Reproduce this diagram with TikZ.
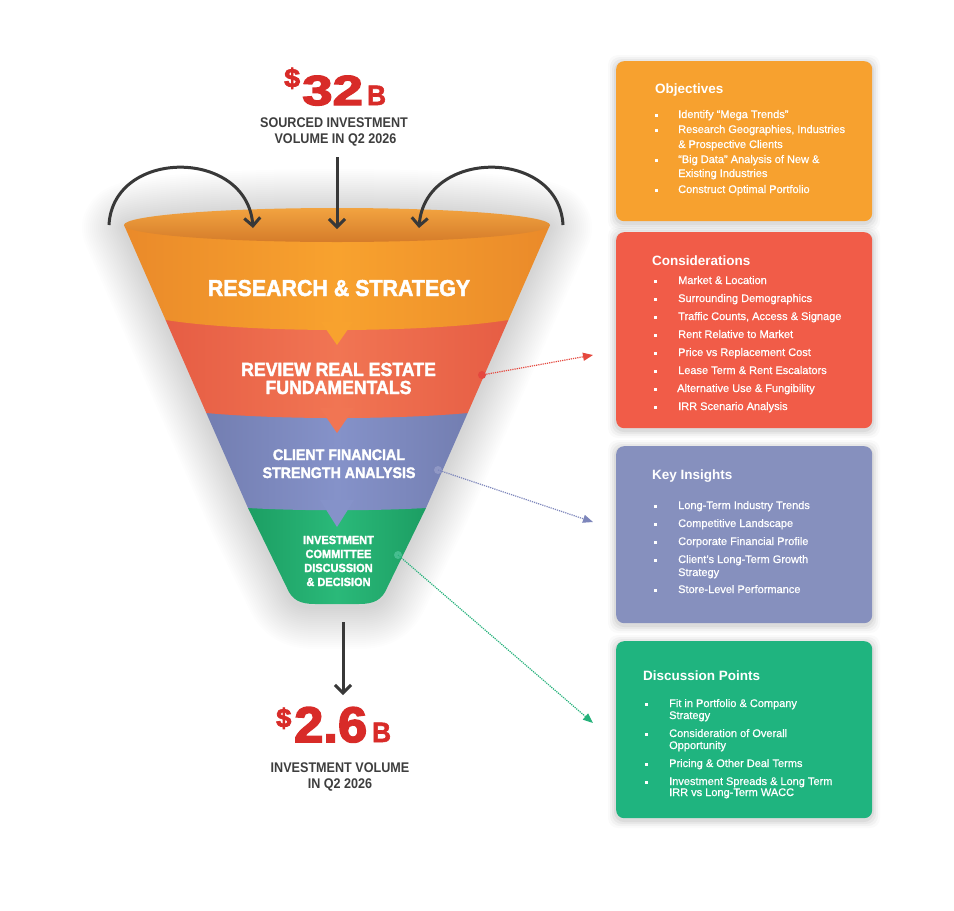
\documentclass[tikz,border=0pt]{standalone}
\usepackage{fontspec}
\setmainfont{Liberation Sans}
\newfontfamily\heavyf[FakeStretch=0.93,BoldFeatures={FakeBold=2}]{Liberation Sans}
\newfontfamily\condf[FakeStretch=0.9]{Liberation Sans}
\newfontfamily\itmf[FakeBold=0.7]{Liberation Sans}
\newfontfamily\numf[BoldFeatures={FakeBold=3}]{Liberation Sans}
\usetikzlibrary{arrows.meta}
\definecolor{org}{HTML}{F8A22E}
\definecolor{orgdk}{HTML}{EA8A2A}
\definecolor{rimtop}{HTML}{F2A340}
\definecolor{rimbot}{HTML}{D57C2A}
\definecolor{rd}{HTML}{F17553}
\definecolor{rddk}{HTML}{E65D44}
\definecolor{bl}{HTML}{8592C9}
\definecolor{bldk}{HTML}{737EB1}
\definecolor{gr}{HTML}{2AB979}
\definecolor{grdk}{HTML}{1C9E63}
\definecolor{numred}{HTML}{D82B28}
\definecolor{txtgray}{HTML}{3E3E3E}
\definecolor{arrgray}{HTML}{383838}
\definecolor{boxorg}{HTML}{F7A12F}
\definecolor{boxred}{HTML}{F15C48}
\definecolor{boxblue}{HTML}{8690BE}
\definecolor{boxgreen}{HTML}{1FB47F}
\definecolor{lnred}{HTML}{E5483E}
\definecolor{lnblue}{HTML}{7D86BB}
\definecolor{lngreen}{HTML}{25B27B}
\newcommand{\bxglow}[4]{%
  \foreach \e/\o in {8/0.02,6/0.03,4/0.04,2/0.05}{%
    \fill[black,opacity=\o,rounded corners=10pt] ({#1-\e},{#2-\e+2}) rectangle ({#3+\e},{#4+\e+2});
  }}
\newcommand{\bul}[2]{\fill[white] ({#1},{#2-4}) rectangle ({#1+3.3},{#2-0.8});}
\begin{document}
\begin{tikzpicture}[x=1pt,y=-1pt,
  bigarrow/.style={draw=arrgray,line width=3pt,-{Straight Barb[length=8pt,width=16pt]}},
  flab/.style={anchor=base,inner sep=0pt,text=white},
  itm/.style={anchor=base west,inner sep=0pt,text=white,font=\itmf\fontsize{11}{13}\selectfont},
  ttl/.style={anchor=base west,inner sep=0pt,text=white,font=\bfseries\fontsize{13.5}{15}\selectfont},
  gtxt/.style={anchor=base,inner sep=0pt,text=txtgray,font=\condf\bfseries\fontsize{14}{14}\selectfont},
  card/.style={anchor=north west,rounded corners=8pt,inner sep=0pt,minimum width=256pt},
  dotln/.style={densely dotted,line width=1.2pt,-{Triangle[length=10pt,width=8pt]}},
  dotnode/.style={circle,inner sep=0pt,minimum size=8pt}]
\useasboundingbox (0,0) rectangle (954,911);
\fill[white] (0,0) rectangle (954,911);

% funnel glow
\foreach \w in {84,80,...,4}{
  \draw[line width=\w pt,black,opacity=0.006,line join=round]
    (124,228) -- (248,511) -- (287,591) .. controls (292,603) and (300,607) .. (315,607)
    -- (359,607) .. controls (374,607) and (382,603) .. (387,591) -- (426,511) -- (550,228)
    arc[start angle=0,end angle=180,x radius=213pt,y radius=17pt] -- cycle;
}

% bands (bottom to top)
\shade[left color=grdk,right color=grdk,middle color=gr]
  (248,508) -- (287,588) .. controls (292,600) and (300,604) .. (315,604)
  -- (359,604) .. controls (374,604) and (382,600) .. (387,588) -- (426,508) -- cycle;
\shade[left color=bldk,right color=bldk,middle color=bl]
  (206.3,413) -- (248,508) .. controls (300,511) and (374,511) .. (426,508) -- (467.7,413) -- cycle;
\shade[left color=rddk,right color=rddk,middle color=rd]
  (165.6,320) -- (206.3,413) .. controls (280,419.7) and (394,419.7) .. (467.7,413) -- (508.4,320) -- cycle;
\shade[left color=orgdk,right color=orgdk,middle color=org]
  (124,225) -- (165.6,320) .. controls (250,333.3) and (424,333.3) .. (508.4,320) -- (550,225) -- cycle;
% notches
\fill[org] (321,322) -- (337,345) -- (353,322) -- cycle;
\fill[rd] (320,408) -- (337,433) -- (354,408) -- cycle;
\fill[bl] (320,500) -- (337,527) -- (354,500) -- cycle;
% rim
\shade[top color=rimtop,bottom color=rimbot] (337,225) ellipse[x radius=213pt,y radius=17pt];

% funnel labels
\node[flab,font=\heavyf\bfseries\fontsize{23}{23}\selectfont] (l1) at (339,296) {RESEARCH \& STRATEGY};
\node[flab,font=\heavyf\bfseries\fontsize{19}{19}\selectfont] (l2a) at (338.5,376) {REVIEW REAL ESTATE};
\node[flab,font=\heavyf\bfseries\fontsize{19}{19}\selectfont] (l2b) at (338.5,394) {FUNDAMENTALS};
\node[flab,font=\heavyf\bfseries\fontsize{15.3}{15}\selectfont] (l3a) at (339,460) {CLIENT FINANCIAL};
\node[flab,font=\heavyf\bfseries\fontsize{15.3}{15}\selectfont] (l3b) at (339,478) {STRENGTH ANALYSIS};
\node[flab,font=\heavyf\bfseries\fontsize{11.8}{12}\selectfont] (l4a) at (338.5,544) {INVESTMENT};
\node[flab,font=\heavyf\bfseries\fontsize{11.8}{12}\selectfont] (l4b) at (338.5,558) {COMMITTEE};
\node[flab,font=\heavyf\bfseries\fontsize{11.8}{12}\selectfont] (l4c) at (338.5,572) {DISCUSSION};
\node[flab,font=\heavyf\bfseries\fontsize{11.8}{12}\selectfont] (l4d) at (338.5,586) {\& DECISION};

% top figures
\node[anchor=base west,inner sep=0pt,text=numred,font=\numf\bfseries\fontsize{26}{26}\selectfont,xscale=1.1] (d1) at (284,87) {\$};
\node[anchor=base west,inner sep=0pt,text=numred,font=\numf\bfseries\fontsize{42}{42}\selectfont,xscale=1.3] (n1) at (302,105) {32};
\node[anchor=base west,inner sep=0pt,text=numred,font=\heavyf\bfseries\fontsize{28}{28}\selectfont] (b1) at (367,105) {B};
\node[gtxt] (s1) at (334,127) {SOURCED INVESTMENT};
\node[gtxt] (s2) at (335.5,143) {VOLUME IN Q2 2026};

% bottom figures
\node[anchor=base west,inner sep=0pt,text=numred,font=\numf\bfseries\fontsize{26}{26}\selectfont,xscale=1.05] (d2) at (276,727) {\$};
\node[anchor=base west,inner sep=0pt,text=numred,font=\numf\bfseries\fontsize{50}{50}\selectfont,xscale=1.05] (n2) at (294,742) {2.6};
\node[anchor=base west,inner sep=0pt,text=numred,font=\heavyf\bfseries\fontsize{28}{28}\selectfont] (b2) at (372,742) {B};
\node[gtxt] (t1) at (340,772) {INVESTMENT VOLUME};
\node[gtxt] (t2) at (340,788) {IN Q2 2026};

% arrows
\coordinate (la1) at (109,225); \coordinate (la2) at (253,228);
\coordinate (ra1) at (563,225); \coordinate (ra2) at (419,228);
\coordinate (ca1) at (337,157); \coordinate (ca2) at (337,229);
\coordinate (ba1) at (343,622); \coordinate (ba2) at (343,695);
\draw[bigarrow] (la1) .. controls (113,148) and (247,148) .. (la2);
\draw[bigarrow] (ra1) .. controls (559,148) and (425,148) .. (ra2);
\draw[bigarrow] (ca1) -- (ca2);
\draw[bigarrow] (ba1) -- (ba2);

% connectors
\node[dotnode,fill=lnred] (p1) at (482,375) {};
\node[dotnode,fill=lnblue!85!white] (p2) at (438,470) {};
\node[dotnode,fill=lngreen!85!white] (p3) at (398,555) {};
\coordinate (e1) at (593,355);
\coordinate (e2) at (593,522);
\coordinate (e3) at (593,723);
\draw[dotln,lnred] (p1.center) -- (e1);
\draw[dotln,lnblue] (p2.center) -- (e2);
\draw[dotln,lngreen] (p3.center) -- (e3);

% cards
\bxglow{616}{61}{872}{221}
\bxglow{616}{232}{872}{428}
\bxglow{616}{446}{872}{623}
\bxglow{616}{641}{872}{818}
\node[card,fill=boxorg,minimum height=160pt] (c1) at (616,61) {};
\node[card,fill=boxred,minimum height=196pt] (c2) at (616,232) {};
\node[card,fill=boxblue,minimum height=177pt] (c3) at (616,446) {};
\node[card,fill=boxgreen,minimum height=177pt] (c4) at (616,641) {};

% card 1
\node[ttl] (c1t) at (655,93) {Objectives};
\bul{655}{118}\node[itm] (c1a) at (678,118) {Identify “Mega Trends”};
\bul{655}{133}\node[itm] (c1b) at (678,133) {Research Geographies, Industries};
\node[itm] (c1c) at (678,148) {\& Prospective Clients};
\bul{655}{163}\node[itm] (c1d) at (678,163) {“Big Data” Analysis of New \&};
\node[itm] (c1e) at (678,177) {Existing Industries};
\bul{655}{193}\node[itm] (c1f) at (678,193) {Construct Optimal Portfolio};

% card 2
\node[ttl] (c2t) at (652,265) {Considerations};
\bul{654}{284}\node[itm] (c2a) at (678,284) {Market \& Location};
\bul{654}{302}\node[itm] (c2b) at (678,302) {Surrounding Demographics};
\bul{654}{320}\node[itm] (c2c) at (678,320) {Traffic Counts, Access \& Signage};
\bul{654}{338}\node[itm] (c2d) at (678,338) {Rent Relative to Market};
\bul{654}{356}\node[itm] (c2e) at (678,356) {Price vs Replacement Cost};
\bul{654}{374}\node[itm] (c2f) at (678,374) {Lease Term \& Rent Escalators};
\bul{654}{392}\node[itm] (c2g) at (677,392) {Alternative Use \& Fungibility};
\bul{654}{410}\node[itm] (c2h) at (678,410) {IRR Scenario Analysis};

% card 3
\node[ttl] (c3t) at (652,479) {Key Insights};
\bul{654}{509}\node[itm] (c3a) at (678,509) {Long-Term Industry Trends};
\bul{654}{527}\node[itm] (c3b) at (678,527) {Competitive Landscape};
\bul{654}{545}\node[itm] (c3c) at (678,545) {Corporate Financial Profile};
\bul{654}{563}\node[itm] (c3d) at (678,563) {Client’s Long-Term Growth};
\node[itm] (c3e) at (678,576) {Strategy};
\bul{654}{593}\node[itm] (c3f) at (678,593) {Store-Level Performance};

% card 4
\node[ttl] (c4t) at (643,680) {Discussion Points};
\bul{645}{707}\node[itm] (c4a) at (669,707) {Fit in Portfolio \& Company};
\node[itm] (c4b) at (669,719) {Strategy};
\bul{645}{737}\node[itm] (c4c) at (669,737) {Consideration of Overall};
\node[itm] (c4d) at (669,749) {Opportunity};
\bul{645}{767}\node[itm] (c4e) at (669,767) {Pricing \& Other Deal Terms};
\bul{645}{785}\node[itm] (c4f) at (669,785) {Investment Spreads \& Long Term};
\node[itm] (c4g) at (669,796) {IRR vs Long-Term WACC};
\end{tikzpicture}
\end{document}
